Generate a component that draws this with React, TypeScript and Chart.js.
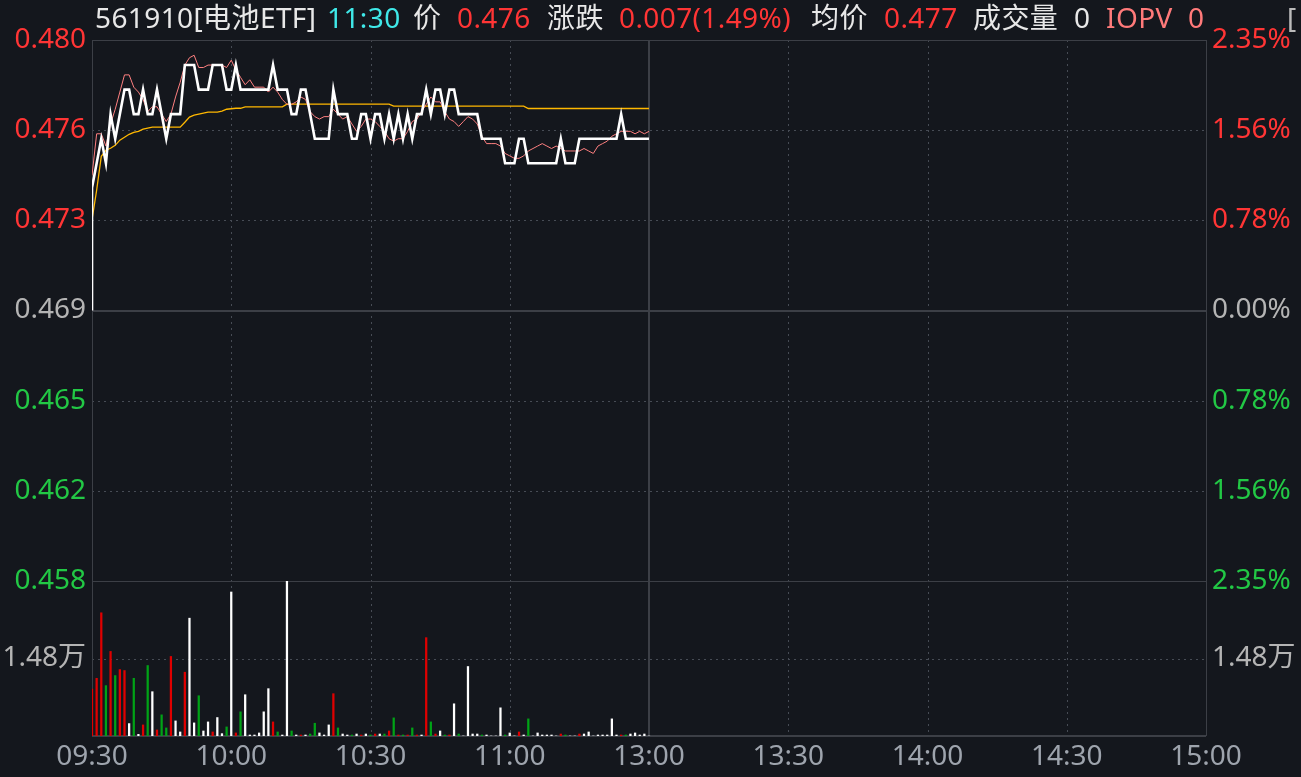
import React, { useEffect, useRef } from 'react';
import { Chart, registerables } from 'chart.js';

Chart.register(...registerables);

// ---------- data ----------
const PREV_CLOSE = 0.469;
const RANGE_PCT = 2.35;
const VOL_MAX = 29600;

const TIME_TICKS = [0, 30, 60, 90, 120, 150, 180, 210, 240];
const TIME_LABELS = ['09:30', '10:00', '10:30', '11:00', '13:00', '13:30', '14:00', '14:30', '15:00'];

const PRICE_TICK_LABELS = ['0.458', '0.462', '0.465', '0.469', '0.473', '0.476', '0.480'];
const PCT_TICK_LABELS = ['2.35%', '1.56%', '0.78%', '0.00%', '0.78%', '1.56%', '2.35%'];
const VOL_TICKS = [14800];
const VOL_TICK_LABELS = ['1.48万'];

const PRICE = [
  0.474, 0.475, 0.476, 0.475, 0.477, 0.476, 0.477, 0.478, 0.478, 0.477,
  0.477, 0.478, 0.477, 0.477, 0.478, 0.477, 0.476, 0.477, 0.477, 0.477,
  0.479, 0.479, 0.479, 0.478, 0.478, 0.478, 0.479, 0.479, 0.479, 0.478,
  0.478, 0.479, 0.478, 0.478, 0.478, 0.478, 0.478, 0.478, 0.478, 0.479,
  0.478, 0.478, 0.478, 0.477, 0.477, 0.478, 0.478, 0.477, 0.476, 0.476,
  0.476, 0.476, 0.478, 0.477, 0.477, 0.477, 0.476, 0.476, 0.477, 0.477,
  0.476, 0.477, 0.477, 0.476, 0.477, 0.476, 0.477, 0.476, 0.477, 0.476,
  0.477, 0.477, 0.478, 0.477, 0.478, 0.478, 0.477, 0.478, 0.478, 0.477,
  0.477, 0.477, 0.477, 0.477, 0.476, 0.476, 0.476, 0.476, 0.476, 0.475,
  0.475, 0.475, 0.476, 0.476, 0.475, 0.475, 0.475, 0.475, 0.475, 0.475,
  0.475, 0.476, 0.475, 0.475, 0.475, 0.476, 0.476, 0.476, 0.476, 0.476,
  0.476, 0.476, 0.476, 0.476, 0.477, 0.476, 0.476, 0.476, 0.476, 0.476,
  0.476,
];

const IOPV = [
  0.4745, 0.4762, 0.4762, 0.4757, 0.4766, 0.4772, 0.4779, 0.4786, 0.4786, 0.4781,
  0.4779, 0.4776, 0.4771, 0.4773, 0.4773, 0.4770, 0.4767, 0.4770, 0.4777, 0.4783,
  0.4790, 0.4793, 0.4794, 0.4789, 0.4789, 0.4790, 0.4790, 0.4790, 0.4790, 0.4789,
  0.4792, 0.4788, 0.4785, 0.4782, 0.4784, 0.4781, 0.4781, 0.4781, 0.4779, 0.4781,
  0.4779, 0.4776, 0.4774, 0.4774, 0.4775, 0.4777, 0.4776, 0.4771, 0.4769, 0.4768,
  0.4769, 0.4769, 0.4772, 0.4770, 0.4768, 0.4769, 0.4766, 0.4763, 0.4765, 0.4768,
  0.4768, 0.4767, 0.4765, 0.4763, 0.4760, 0.4759, 0.4760, 0.4760, 0.4763, 0.4767,
  0.4768, 0.4771, 0.4774, 0.4777, 0.4775, 0.4775, 0.4771, 0.4768, 0.4767, 0.4765,
  0.4767, 0.4769, 0.4768, 0.4766, 0.4761, 0.4758, 0.4758, 0.4758, 0.4757, 0.4754,
  0.4753, 0.4752, 0.4752, 0.4753, 0.4755, 0.4756, 0.4757, 0.4758, 0.4757, 0.4756,
  0.4757, 0.4756, 0.4755, 0.4755, 0.4755, 0.4755, 0.4756, 0.4755, 0.4754, 0.4757,
  0.4758, 0.4759, 0.4761, 0.4762, 0.4763, 0.4763, 0.4763, 0.4762, 0.4763, 0.4762,
  0.4763,
];

const AVG = [
  0.47270, 0.47390, 0.47528, 0.47553, 0.47561, 0.47573, 0.47594, 0.47606, 0.47618, 0.47626,
  0.47630, 0.47639, 0.47643, 0.47647, 0.47647, 0.47647, 0.47647, 0.47647, 0.47647, 0.47647,
  0.47667, 0.47688, 0.47696, 0.47700, 0.47704, 0.47708, 0.47708, 0.47708, 0.47712, 0.47720,
  0.47722, 0.47724, 0.47724, 0.47730, 0.47730, 0.47730, 0.47730, 0.47730, 0.47730, 0.47730,
  0.47730, 0.47730, 0.47741, 0.47741, 0.47741, 0.47741, 0.47741, 0.47741, 0.47741, 0.47741,
  0.47741, 0.47741, 0.47741, 0.47741, 0.47741, 0.47741, 0.47741, 0.47741, 0.47741, 0.47741,
  0.47741, 0.47741, 0.47741, 0.47741, 0.47741, 0.47733, 0.47733, 0.47733, 0.47733, 0.47733,
  0.47733, 0.47733, 0.47733, 0.47733, 0.47733, 0.47733, 0.47733, 0.47733, 0.47733, 0.47733,
  0.47733, 0.47733, 0.47733, 0.47733, 0.47733, 0.47733, 0.47733, 0.47733, 0.47733, 0.47733,
  0.47733, 0.47733, 0.47733, 0.47733, 0.47723, 0.47723, 0.47723, 0.47723, 0.47723, 0.47723,
  0.47723, 0.47723, 0.47723, 0.47723, 0.47723, 0.47723, 0.47723, 0.47723, 0.47723, 0.47723,
  0.47723, 0.47723, 0.47723, 0.47723, 0.47723, 0.47723, 0.47723, 0.47723, 0.47723, 0.47723,
  0.47723,
];

const VOLUME = [
  8970, 11020, 23530, 9620, 16150, 11540, 12690, 12500, 2370, 11020,
  320, 2115, 13460, 8460, 1150, 4040, 1540, 15190, 2880, 770,
  12180, 22500, 2500, 7690, 960, 2690, 770, 3525, 450, 1730,
  27500, 580, 4615, 7880, 190, 190, 580, 4615, 9040, 2690,
  770, 190, 29600, 960, 190, 190, 190, 380, 2435, 580,
  190, 2115, 8080, 1540, 380, 190, 190, 380, 190, 380,
  190, 380, 380, 380, 960, 3460, 190, 190, 190, 1540,
  190, 190, 18780, 2690, 380, 960, 190, 190, 6150, 380,
  0, 13270, 380, 380, 190, 190, 0, 0, 5380, 190,
  580, 0, 770, 190, 3270, 0, 580, 190, 190, 190,
  0, 380, 190, 0, 0, 380, 380, 770, 0, 190,
  190, 190, 3270, 190, 190, 190, 380, 580, 190, 380,
  0,
];

const HEADER_TEXTS = ['561910[电池ETF]', '11:30', '价', '0.476', '涨跌', '0.007(1.49%)', '均价', '0.477', '成交量', '0', 'IOPV', '0', '['];

// ---------- styles ----------
const BG = '#14171d';
const FONT = '"Noto Sans", "Noto Sans CJK SC", sans-serif';
const C_RED = '#ff3535';
const C_GREEN = '#22c845';
const C_GRAY = '#b4b4b4';
const C_TEXT = '#e8e8e8';
const HEADER_COLORS = [C_TEXT, '#3fe8e8', C_TEXT, C_RED, C_TEXT, C_RED, C_TEXT, C_RED, C_TEXT, C_TEXT, '#ff7a7a', '#ff7a7a', '#bbbbbb'];
const HEADER_X = [95, 327, 413, 457, 547, 619, 811, 884, 973, 1074, 1106, 1188, 1287];
const GRID_SOLID = '#3c3f46';
const GRID_DOT = '#474c55';

const priceData = [{ x: 0, y: PREV_CLOSE }].concat(PRICE.map((p, i) => ({ x: i, y: p })));
const iopvData = IOPV.map((p, i) => ({ x: i, y: p }));
const avgData = AVG.map((p, i) => ({ x: i, y: p }));
const volData = VOLUME.map((v, i) => ({ x: i, y: v }));
const volColors = PRICE.map((p, i) => {
  const prev = i === 0 ? PREV_CLOSE : PRICE[i - 1];
  if (p > prev + 1e-9) return '#e00000';
  if (p < prev - 1e-9) return '#00a316';
  return '#ffffff';
});

const gridPlugin = {
  id: 'customGrid',
  beforeDatasetsDraw(chart: any) {
    const { ctx, chartArea } = chart;
    const xs = chart.scales.x;
    const ys = chart.scales.y;
    const yv = chart.scales.yv;
    const { left, right, top, bottom } = chartArea;
    const h = (y: number, w: number) => {
      const p = w % 2 === 1 ? Math.round(y) + 0.5 : Math.round(y);
      ctx.lineWidth = w;
      ctx.beginPath();
      ctx.moveTo(left, p);
      ctx.lineTo(right, p);
      ctx.stroke();
    };
    const v = (x: number, w: number, y0 = top, y1 = bottom) => {
      const p = w % 2 === 1 ? Math.round(x) + 0.5 : Math.round(x);
      ctx.lineWidth = w;
      ctx.beginPath();
      ctx.moveTo(p, y0);
      ctx.lineTo(p, y1);
      ctx.stroke();
    };
    ctx.save();
    ctx.strokeStyle = GRID_DOT;
    ctx.setLineDash([2, 4]);
    TIME_TICKS.forEach((t, i) => {
      if (i === 0 || i === 4 || i === TIME_TICKS.length - 1) return;
      v(xs.getPixelForValue(t), 1);
    });
    ys.ticks.forEach((t: any, i: number) => {
      if (i === 0 || i === 3 || i === ys.ticks.length - 1) return;
      h(ys.getPixelForValue(t.value), 1);
    });
    VOL_TICKS.forEach((t) => h(yv.getPixelForValue(t), 1));
    ctx.setLineDash([]);
    ctx.strokeStyle = GRID_SOLID;
    h(ys.getPixelForValue(ys.max), 1);
    h(ys.getPixelForValue(PREV_CLOSE), 2);
    h(ys.getPixelForValue(ys.min), 1);
    h(yv.getPixelForValue(0), 2);
    v(xs.getPixelForValue(TIME_TICKS[0]), 1);
    v(xs.getPixelForValue(TIME_TICKS[4]), 2);
    v(xs.getPixelForValue(TIME_TICKS[TIME_TICKS.length - 1]), 1);
    ctx.restore();
  },
};

const evenTicks = (labels: string[]) => (s: any) => {
  const n = labels.length;
  s.ticks = labels.map((_, k) => ({ value: s.min + (k * (s.max - s.min)) / (n - 1) }));
};
const sideColor = (ctx: any) => (ctx.index > 3 ? C_RED : ctx.index === 3 ? C_GRAY : C_GREEN);
const tickFont = { family: FONT, size: 28 };
const noGrid = { display: false, drawTicks: false, tickLength: 0 };

export default function App() {
  const ref = useRef<HTMLCanvasElement>(null);
  useEffect(() => {
    document.body.style.margin = '0';
    document.body.style.background = BG;
    const chart = new Chart(ref.current as HTMLCanvasElement, {
      data: {
        datasets: [
          {
            type: 'line', label: '价格', data: priceData as any, borderColor: '#ffffff', borderWidth: 2.6,
            pointRadius: 0, xAxisID: 'x', yAxisID: 'y', order: 0,
          },
          {
            type: 'line', label: 'IOPV', data: iopvData as any, borderColor: '#ff8080', borderWidth: 1,
            pointRadius: 0, xAxisID: 'x', yAxisID: 'y', order: 1,
          },
          {
            type: 'line', label: '均价', data: avgData as any, borderColor: '#ffb800', borderWidth: 1.3,
            pointRadius: 0, xAxisID: 'x', yAxisID: 'y', order: 2,
          },
          {
            type: 'bar', label: '成交量', data: volData as any, backgroundColor: volColors, barThickness: 1.6,
            xAxisID: 'x', yAxisID: 'yv', order: 3,
          },
        ] as any,
      },
      options: {
        animation: false,
        responsive: false,
        devicePixelRatio: 1,
        events: [],
        layout: { padding: { top: 40, left: 0, right: 0, bottom: 0 } },
        plugins: { legend: { display: false }, tooltip: { enabled: false } },
        scales: {
          x: {
            type: 'linear', position: 'bottom', offset: false,
            min: TIME_TICKS[0], max: TIME_TICKS[TIME_TICKS.length - 1],
            grid: noGrid, border: { display: false },
            afterBuildTicks: (s: any) => { s.ticks = TIME_TICKS.map((t) => ({ value: t })); },
            afterFit: (s: any) => { s.height = 41; },
            ticks: {
              color: '#9ea4ad', font: tickFont, padding: 4, maxRotation: 0, autoSkip: false,
              callback: (_v: any, i: number) => TIME_LABELS[i],
            },
          },
          y: {
            type: 'linear', position: 'left', stack: 'L', stackWeight: 541, weight: 2,
            min: PREV_CLOSE * (1 - RANGE_PCT / 100), max: PREV_CLOSE * (1 + RANGE_PCT / 100),
            grid: noGrid, border: { display: false },
            afterBuildTicks: evenTicks(PRICE_TICK_LABELS),
            afterFit: (s: any) => { s.width = 92; },
            ticks: { color: sideColor, font: tickFont, padding: 6, autoSkip: false, callback: (_v: any, i: number) => PRICE_TICK_LABELS[i] },
          },
          yv: {
            type: 'linear', position: 'left', stack: 'L', stackWeight: 155, weight: 1,
            min: 0, max: VOL_MAX,
            grid: noGrid, border: { display: false },
            afterBuildTicks: (s: any) => { s.ticks = VOL_TICKS.map((t) => ({ value: t })); },
            afterFit: (s: any) => { s.width = 92; },
            ticks: { color: C_GRAY, font: tickFont, padding: 6, autoSkip: false, callback: (_v: any, i: number) => VOL_TICK_LABELS[i] },
          },
          yr: {
            type: 'linear', position: 'right', stack: 'R', stackWeight: 541, weight: 1,
            min: -RANGE_PCT, max: RANGE_PCT,
            grid: noGrid, border: { display: false },
            afterBuildTicks: evenTicks(PCT_TICK_LABELS),
            afterFit: (s: any) => { s.width = 95; },
            ticks: { color: sideColor, font: tickFont, padding: 6, autoSkip: false, callback: (_v: any, i: number) => PCT_TICK_LABELS[i] },
          },
          yvr: {
            type: 'linear', position: 'right', stack: 'R', stackWeight: 155, weight: 2,
            min: 0, max: VOL_MAX,
            grid: noGrid, border: { display: false },
            afterBuildTicks: (s: any) => { s.ticks = VOL_TICKS.map((t) => ({ value: t })); },
            afterFit: (s: any) => { s.width = 95; },
            ticks: { color: C_GRAY, font: tickFont, padding: 6, autoSkip: false, callback: (_v: any, i: number) => VOL_TICK_LABELS[i] },
          },
        } as any,
      },
      plugins: [gridPlugin],
    } as any);
    return () => chart.destroy();
  }, []);

  return (
    <div style={{ position: 'relative', width: 1301, height: 777, background: BG, overflow: 'hidden' }}>
      <canvas ref={ref} width={1301} height={777} style={{ display: 'block', width: 1301, height: 777 }} />
      {HEADER_TEXTS.map((t, i) => (
        <span
          key={i}
          style={{
            position: 'absolute', left: HEADER_X[i], top: -1, color: HEADER_COLORS[i],
            fontFamily: FONT, fontSize: 28, letterSpacing: '0.4px', lineHeight: '36px', whiteSpace: 'nowrap',
          }}
        >
          {t}
        </span>
      ))}
    </div>
  );
}
